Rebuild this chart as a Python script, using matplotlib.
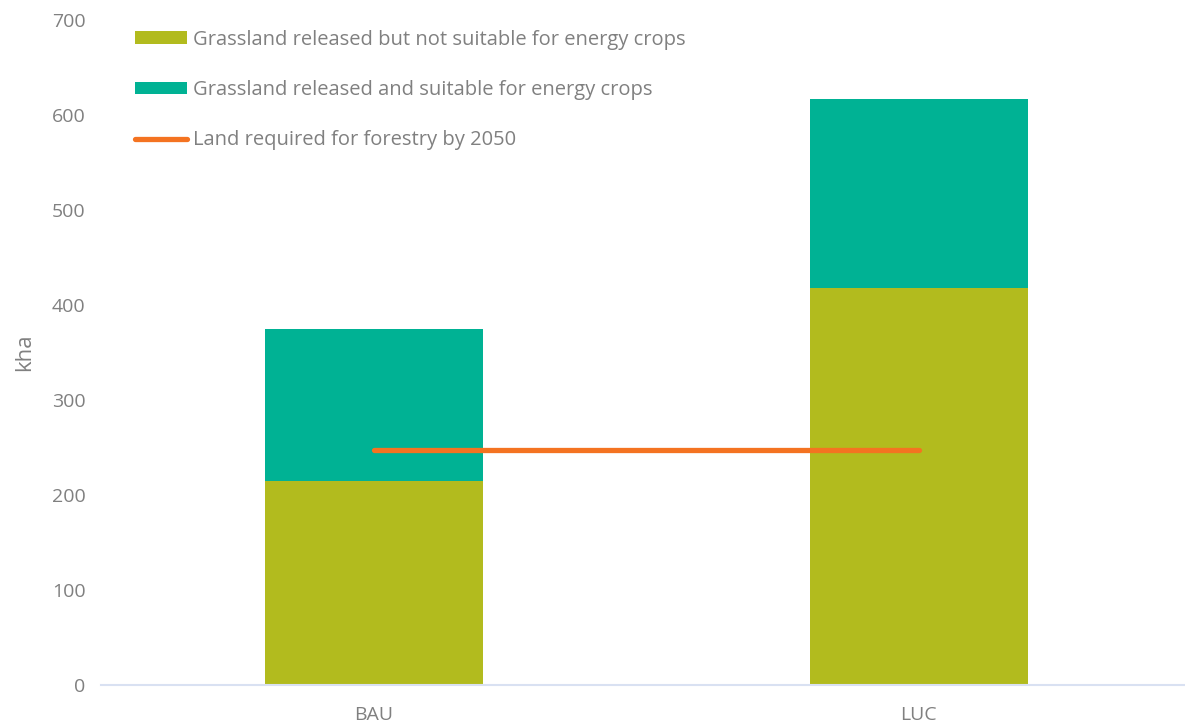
import matplotlib
matplotlib.use('Agg')
import matplotlib.pyplot as plt
import numpy as np

plt.rcParams['font.family'] = ['Open Sans', 'DejaVu Sans']

# datos
scenarios = ['BAU', 'LUC']
not_suitable = [215, 418]
suitable = [160, 199]
forestry = [247, 247]

labels = ['Grassland released but not suitable for energy crops',
          'Grassland released and suitable for energy crops',
          'Land required for forestry by 2050']

olive = '#B2BB1E'
teal = '#00B294'
orange = '#F47321'
grey = '#808080'

fig = plt.figure(figsize=(11.85, 7.25), dpi=100)
ax = fig.add_axes([101/1185, 40/725, 1090/1185, 665/725])

x = np.arange(len(scenarios))
b1 = ax.bar(x, not_suitable, width=0.4, color=olive, label=labels[0])
b2 = ax.bar(x, suitable, width=0.4, bottom=not_suitable, color=teal, label=labels[1])
ln, = ax.plot(x, forestry, color=orange, lw=3.8, solid_capstyle='round', label=labels[2])

ax.set_xlim(-0.5, 1.5)
ax.set_ylim(0, 700)
ax.set_yticks(np.arange(0, 701, 100))
ax.set_xticks(x)
ax.set_xticklabels(scenarios)
ax.tick_params(axis='both', length=0, colors=grey, labelsize=14)
ax.tick_params(axis='y', pad=11)
ax.tick_params(axis='x', pad=15)
for s in ['top', 'right', 'left']:
    ax.spines[s].set_visible(False)
ax.spines['bottom'].set_color('#D9E1F2')
ax.spines['bottom'].set_linewidth(1.5)
ax.set_ylabel('kha', color=grey, fontsize=16, labelpad=12)

leg = ax.legend(handles=[b1, b2, ln], loc='upper left', bbox_to_anchor=(0.031, 0.985),
                frameon=False, fontsize=14.5, labelcolor=grey, borderpad=0, borderaxespad=0,
                handlelength=2.6, handleheight=0.6, handletextpad=0.3, labelspacing=1.5)

fig.savefig('out.png', dpi=100)
